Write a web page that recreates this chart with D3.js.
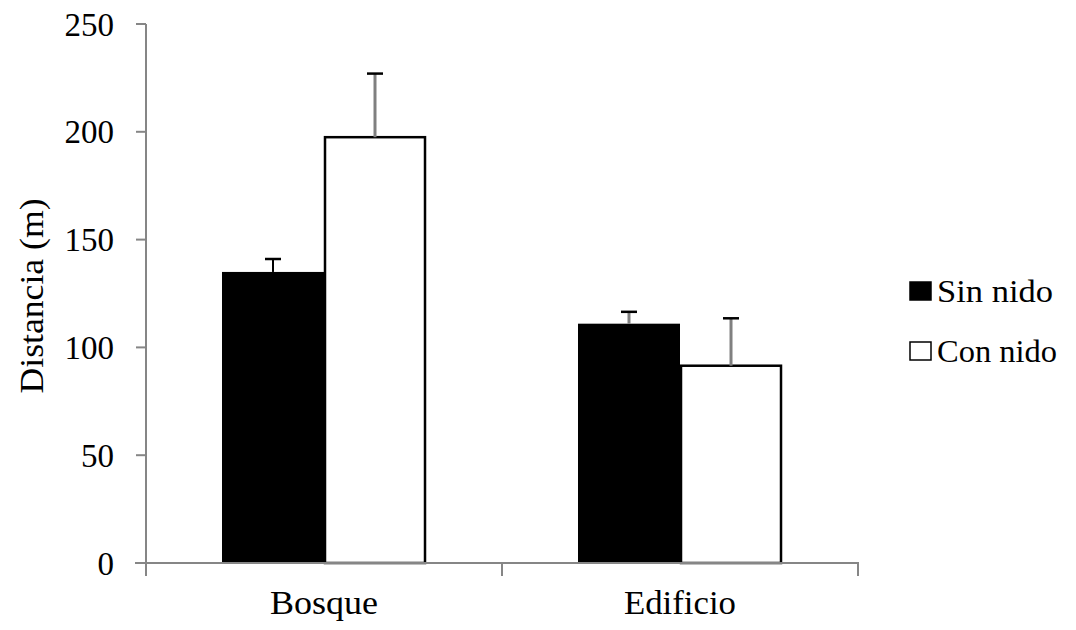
<!DOCTYPE html>
<html>
<head>
<meta charset="utf-8">
<script src="https://cdn.jsdelivr.net/npm/d3@7"></script>
<style>
  html, body { margin: 0; padding: 0; background: #fff; }
  svg { display: block; }
  text { font-family: "Liberation Serif", "Times New Roman", serif; fill: #000; }
</style>
</head>
<body>
<svg id="chart" width="1076" height="630"></svg>
<script>
// Distance by habitat, with and without nest
const categories = ["Bosque", "Edificio"];
const series = ["Sin nido", "Con nido"];
const sinNido = [135, 111];
const conNido = [197.5, 91.5];
const sinNidoErr = [6, 5.5];
const conNidoErr = [29.5, 22];
const yTicks = [0, 50, 100, 150, 200, 250];

const svg = d3.select("#chart");
const axisColor = "#868686";

const y = d3.scaleLinear().domain([0, 250]).range([563, 24]);
const x0 = d3.scaleBand().domain(categories).range([146, 858]).padding(0);
const x1 = d3.scaleBand().domain(series).range([0, x0.bandwidth()])
  .paddingInner(0).paddingOuter(0.745);

const rows = categories.map((c, i) => ({
  cat: c,
  vals: [
    { s: series[0], v: sinNido[i], e: sinNidoErr[i] },
    { s: series[1], v: conNido[i], e: conNidoErr[i] }
  ]
}));

// Bars
const groups = svg.selectAll("g.cat").data(rows).join("g")
  .attr("class", "cat")
  .attr("transform", d => `translate(${x0(d.cat)},0)`);

groups.selectAll("rect.bar").data(d => d.vals).join("rect")
  .attr("class", "bar")
  .attr("x", d => x1(d.s) + (d.s === series[1] ? 1 : 0))
  .attr("y", d => y(d.v))
  .attr("width", d => x1.bandwidth() - (d.s === series[1] ? 2 : 0))
  .attr("height", d => y(0) - y(d.v))
  .attr("fill", d => d.s === series[0] ? "#000" : "#fff")
  .attr("stroke", d => d.s === series[0] ? "none" : "#000")
  .attr("stroke-width", 2.5);

// Error bars (upper only)
groups.each(function (d, gi) {
  const g = d3.select(this);
  d.vals.forEach(v => {
    const cx = x1(v.s) + x1.bandwidth() / 2;
    const thin = gi === 0 && v.s === series[0];
    g.append("line")
      .attr("x1", cx).attr("x2", cx)
      .attr("y1", y(v.v)).attr("y2", y(v.v + v.e))
      .attr("stroke", thin ? "#000" : "#808080")
      .attr("stroke-width", thin ? 2 : 3);
    g.append("line")
      .attr("x1", cx - 8).attr("x2", cx + 8)
      .attr("y1", y(v.v + v.e)).attr("y2", y(v.v + v.e))
      .attr("stroke", "#000")
      .attr("stroke-width", 2.5);
  });
});

// Y axis
const yAxis = svg.append("g");
yAxis.append("line")
  .attr("x1", 146).attr("x2", 146)
  .attr("y1", y(250)).attr("y2", 576)
  .attr("stroke", axisColor).attr("stroke-width", 2);
yAxis.selectAll("line.tick").data(yTicks).join("line")
  .attr("class", "tick")
  .attr("x1", 136).attr("x2", 146)
  .attr("y1", d => y(d)).attr("y2", d => y(d))
  .attr("stroke", axisColor).attr("stroke-width", 2);
yAxis.selectAll("text").data(yTicks).join("text")
  .attr("x", 114)
  .attr("y", d => y(d))
  .attr("dy", "0.35em")
  .attr("text-anchor", "end")
  .attr("font-size", 33)
  .text(d => d);

// X axis
const xAxis = svg.append("g");
xAxis.append("line")
  .attr("x1", 135).attr("x2", 859)
  .attr("y1", y(0)).attr("y2", y(0))
  .attr("stroke", axisColor).attr("stroke-width", 2);
const boundaries = [x0.range()[0], ...categories.map(c => x0(c) + x0.bandwidth())];
xAxis.selectAll("line.tick").data(boundaries).join("line")
  .attr("class", "tick")
  .attr("x1", d => d).attr("x2", d => d)
  .attr("y1", y(0)).attr("y2", 576)
  .attr("stroke", axisColor).attr("stroke-width", 2);
const catWidths = [108, 112];
xAxis.selectAll("text").data(categories).join("text")
  .attr("x", d => x0(d) + x0.bandwidth() / 2)
  .attr("y", 614)
  .attr("text-anchor", "middle")
  .attr("font-size", 33)
  .attr("textLength", (d, i) => catWidths[i])
  .attr("lengthAdjust", "spacingAndGlyphs")
  .text(d => d);

// Y axis title
svg.append("text")
  .attr("transform", "translate(43,296) rotate(-90)")
  .attr("text-anchor", "middle")
  .attr("font-size", 34)
  .attr("textLength", 195)
  .attr("lengthAdjust", "spacingAndGlyphs")
  .text("Distancia (m)");

// Legend
const legend = svg.append("g");
const legendY = [291, 351];
const legendWidths = [116, 120];
series.forEach((s, i) => {
  legend.append("rect")
    .attr("x", 910).attr("y", legendY[i] - 9)
    .attr("width", 21).attr("height", 18)
    .attr("fill", i === 0 ? "#000" : "#fff")
    .attr("stroke", "#000")
    .attr("stroke-width", 1.5);
  legend.append("text")
    .attr("x", 937).attr("y", legendY[i] + 11)
    .attr("font-size", 32)
    .attr("textLength", legendWidths[i])
    .attr("lengthAdjust", "spacingAndGlyphs")
    .text(s);
});
</script>
</body>
</html>
